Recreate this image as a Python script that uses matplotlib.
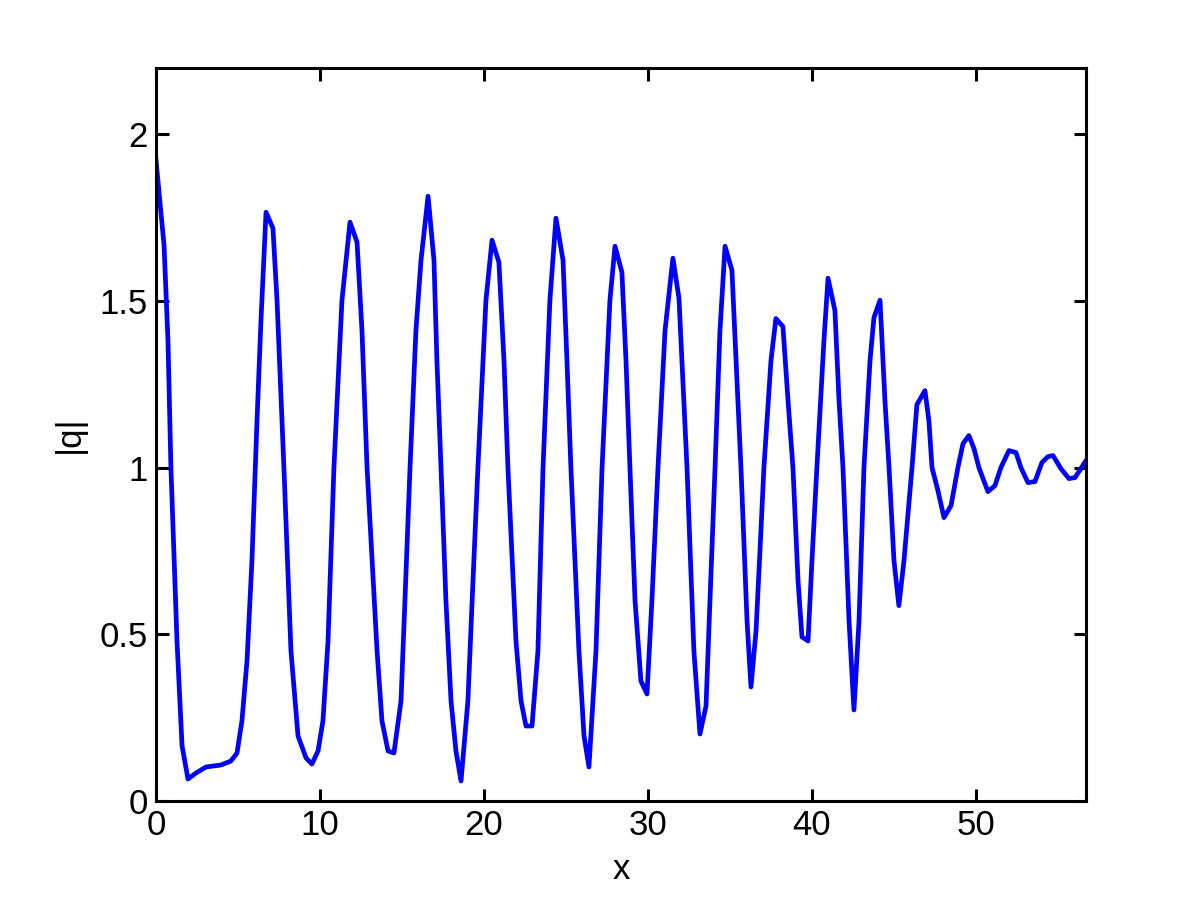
import matplotlib
matplotlib.use('Agg')
import matplotlib.pyplot as plt

# |q| along x
x = [0.00, 0.49, 0.73, 0.91, 1.28, 1.59, 1.95, 2.44, 3.05, 3.96, 4.57, 4.94,
     5.24, 5.55, 5.85, 6.16, 6.40, 6.71, 7.13, 7.38, 7.80, 8.23, 8.66, 9.15,
     9.51, 9.88, 10.18, 10.49, 10.85, 11.34, 11.83, 12.26, 12.56, 12.87, 13.48,
     13.78, 14.15, 14.51, 14.94, 15.18, 15.49, 15.85, 16.16, 16.59, 16.95, 17.13,
     17.38, 17.68, 17.99, 18.29, 18.60, 19.02, 19.33, 19.63, 20.12, 20.49, 20.91,
     21.22, 21.46, 21.95, 22.26, 22.56, 22.93, 23.29, 23.60, 24.02, 24.39, 24.82,
     25.06, 25.30, 25.79, 26.10, 26.40, 26.83, 27.20, 27.68, 27.99, 28.41, 28.66,
     28.90, 29.21, 29.57, 29.94, 30.24, 30.61, 31.04, 31.52, 31.89, 32.13, 32.38,
     32.80, 33.17, 33.54, 33.78, 34.09, 34.39, 34.70, 35.12, 35.37, 35.67, 36.04,
     36.28, 36.59, 36.83, 37.07, 37.50, 37.80, 38.23, 38.54, 38.84, 39.15, 39.39,
     39.76, 40.00, 40.30, 40.73, 40.98, 41.40, 41.65, 41.89, 42.26, 42.56, 42.87,
     42.99, 43.17, 43.54, 43.78, 44.15, 44.45, 44.70, 45.00, 45.30, 45.61, 46.10,
     46.40, 46.89, 47.13, 47.32, 47.68, 48.05, 48.48, 48.90, 49.21, 49.57, 49.88,
     50.18, 50.73, 51.16, 51.52, 52.01, 52.44, 52.74, 53.17, 53.60, 54.02, 54.39,
     54.70, 55.18, 55.67, 56.04, 56.71]
q = [1.922, 1.667, 1.381, 1.000, 0.480, 0.165, 0.066, 0.084, 0.102, 0.108, 0.120, 0.144,
     0.240, 0.420, 0.721, 1.141, 1.441, 1.766, 1.718, 1.502, 1.000, 0.450, 0.195, 0.129,
     0.111, 0.150, 0.240, 0.480, 1.000, 1.502, 1.736, 1.676, 1.411, 1.000, 0.450,
     0.240, 0.150, 0.144, 0.300, 0.601, 1.000, 1.411, 1.622, 1.814, 1.622, 1.321,
     1.000, 0.601, 0.300, 0.150, 0.060, 0.300, 0.661, 1.000, 1.502, 1.682, 1.616,
     1.321, 1.000, 0.480, 0.300, 0.225, 0.225, 0.450, 1.000, 1.502, 1.748, 1.622,
     1.321, 1.000, 0.450, 0.195, 0.102, 0.450, 1.000, 1.502, 1.664, 1.586, 1.321,
     1.000, 0.601, 0.360, 0.321, 0.601, 1.000, 1.411, 1.628, 1.508, 1.261, 1.000,
     0.450, 0.201, 0.285, 0.601, 1.000, 1.411, 1.664, 1.592, 1.321, 1.000, 0.541,
     0.342, 0.511, 0.751, 1.000, 1.321, 1.447, 1.423, 1.201, 1.000, 0.661, 0.492,
     0.480, 0.721, 1.000, 1.381, 1.568, 1.471, 1.201, 1.000, 0.541, 0.273, 0.541,
     0.721, 1.000, 1.321, 1.450, 1.502, 1.201, 1.000, 0.721, 0.586, 0.721, 1.000,
     1.189, 1.231, 1.141, 1.000, 0.931, 0.850, 0.886, 1.000, 1.072, 1.096, 1.057,
     1.000, 0.928, 0.946, 1.000, 1.051, 1.045, 1.000, 0.955, 0.958, 1.015, 1.033,
     1.036, 0.997, 0.967, 0.970, 1.021]

xticks = [0, 10, 20, 30, 40, 50]
yticks = [0, 0.5, 1, 1.5, 2]
yticklabels = ['0', '0.5', '1', '1.5', '2']

plt.rcParams['font.family'] = ['Liberation Sans', 'DejaVu Sans']

fig = plt.figure(figsize=(12, 9), dpi=100)
ax = fig.add_axes([0.13, 0.11, 0.775, 0.815])
ax.plot(x, q, color='#0000ff', linewidth=3.4)

ax.set_xlim(0, x[-1])
ax.set_ylim(0, 2.2)
ax.set_xticks(xticks)
ax.set_xticklabels([str(t) for t in xticks])
ax.set_yticks(yticks)
ax.set_yticklabels(yticklabels)
ax.tick_params(direction='in', length=9, width=2.2, labelsize=25,
               top=True, right=True, pad=6)
for s in ax.spines.values():
    s.set_linewidth(2.2)

ax.set_xlabel('x', fontsize=25, labelpad=8)
ax.set_ylabel('|q|', fontsize=25, labelpad=10)

fig.savefig('out.png', dpi=100)
